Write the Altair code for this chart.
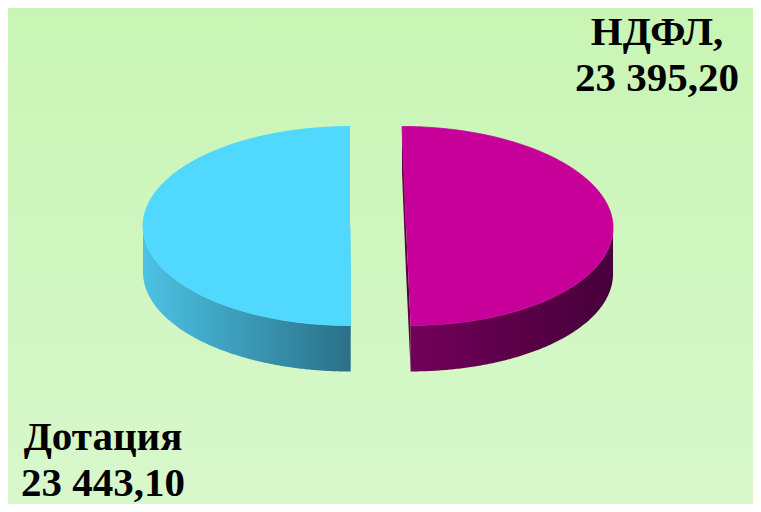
import numpy as np
import pandas as pd
import altair as alt

# ---- data ----
labels = ["НДФЛ", "Дотация"]
values = [23395.20, 23443.10]
value_texts = ["23 395,20", "23 443,10"]

# ---- styles ----
top_colors = ["#C8009A", "#50D8FE"]
side_stops = [["#720058", "#46003A"], ["#4CC2E4", "#2A7088"]]
inner_colors = ["#58003F", "#2A7088"]
label_pos = [(657, 45), (103, 450)]          # (x, first baseline) in page px
shear = [0.04, 0.0]                            # slight perspective on right slice

W, H = 745, 496
CX, CY = 378, 226
RX, RY = 207, 99.5
DEPTH = 46
EXPLODE = 28
N = 181

total = sum(values)
fr = np.cumsum([0] + values) / total * 2 * np.pi

rows = []
def add(shape, pts):
    for k, (x, y) in enumerate(pts):
        rows.append({"shape": shape, "ord": k, "x": x, "y": y})

for i, lab in enumerate(labels):
    t0, t1 = fr[i], fr[i + 1]
    mid = (t0 + t1) / 2
    cx = CX + EXPLODE * np.sin(mid)
    cy = CY - EXPLODE * np.cos(mid) * RY / RX
    s = shear[i]

    def P(t, dy=0.0):
        x = cx + RX * np.sin(t)
        y = cy - RY * np.cos(t)
        x = x + s * (y - cy)
        return (x, y + dy)

    C = (cx, cy)
    # inner face (two radii extruded)
    add(f"inner{i}", [P(t0), C, P(t1), P(t1, DEPTH), (cx, cy + DEPTH), P(t0, DEPTH)])
    # outer rim visible in front half
    a, b = max(t0, np.pi / 2), min(t1, 3 * np.pi / 2)
    if b > a:
        ts = np.linspace(a, b, N)
        add(f"side{i}", [P(t) for t in ts] + [P(t, DEPTH) for t in ts[::-1]])
    # top face
    ts = np.linspace(t0, t1, N)
    add(f"top{i}", [C] + [P(t) for t in ts])

df = pd.DataFrame(rows)

xs = alt.Scale(domain=[8, 8 + W], nice=False, zero=False)
ys = alt.Scale(domain=[8, 8 + H], nice=False, zero=False, reverse=True)

def poly(shape, fill, stroke_w=0.0):
    kw = dict(filled=True, fill=fill, strokeWidth=stroke_w)
    if isinstance(fill, str) and stroke_w > 0:
        kw["stroke"] = fill
    return alt.Chart(df).transform_filter(alt.datum.shape == shape).mark_line(**kw).encode(
        x=alt.X("x:Q", scale=xs, axis=None),
        y=alt.Y("y:Q", scale=ys, axis=None),
        order=alt.Order("ord:Q"),
    )

bg = alt.Chart(pd.DataFrame({"a": [0]})).mark_rect(
    fill=alt.LinearGradient(
        gradient="linear",
        stops=[alt.GradientStop(color="#C8F5B4", offset=0),
               alt.GradientStop(color="#D8F8CC", offset=1)],
        x1=0, x2=0, y1=0, y2=1)
).encode(x=alt.value(0), x2=alt.value(W), y=alt.value(0), y2=alt.value(H))

layers = [bg]
for i in range(len(labels)):
    layers.append(poly(f"inner{i}", inner_colors[i]))
for i in range(len(labels)):
    if df["shape"].eq(f"side{i}").any():
        grad = alt.LinearGradient(
            gradient="linear",
            stops=[alt.GradientStop(color=side_stops[i][0], offset=0),
                   alt.GradientStop(color=side_stops[i][1], offset=1)],
            x1=0, x2=1, y1=0, y2=0)
        layers.append(poly(f"side{i}", grad))
for i in range(len(labels)):
    layers.append(poly(f"top{i}", top_colors[i], 0.8))

lab_df = pd.DataFrame({
    "txt": [f"{labels[0]},\n{value_texts[0]}", f"{labels[1]}\n{value_texts[1]}"],
    "x": [p[0] for p in label_pos],
    "y": [p[1] for p in label_pos],
})
text = alt.Chart(lab_df).mark_text(
    font="Liberation Serif", fontSize=41, fontWeight="bold", color="#000000",
    align="center", baseline="alphabetic", lineBreak="\n", lineHeight=46,
).encode(
    x=alt.X("x:Q", scale=xs, axis=None),
    y=alt.Y("y:Q", scale=ys, axis=None),
    text="txt:N",
)
layers.append(text)

chart = alt.layer(*layers).properties(
    width=W, height=H, padding=0,
    autosize=alt.AutoSizeParams(type="none"),
    background="#D0F6C0",
).configure_view(stroke=None)

chart.save("out.html", embed_options={"renderer": "svg", "actions": False})
